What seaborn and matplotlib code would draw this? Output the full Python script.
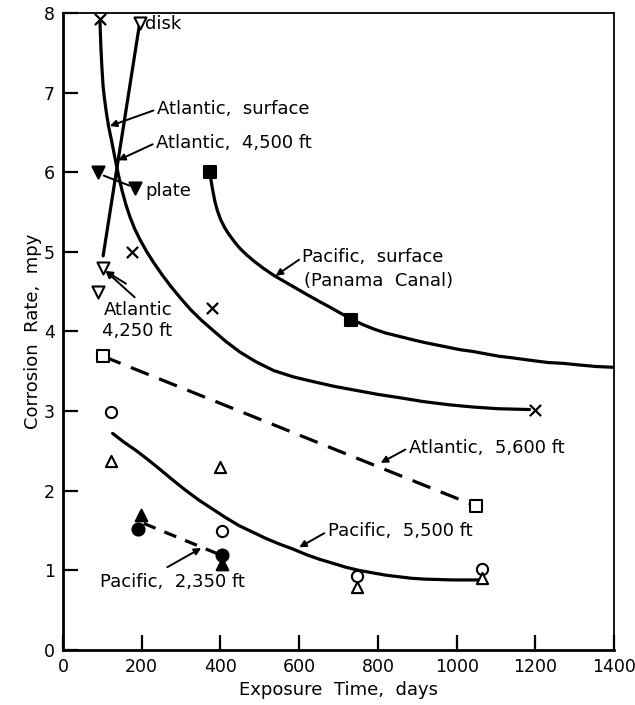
import matplotlib
matplotlib.use("Agg")
import matplotlib.pyplot as plt
import seaborn as sns
import pandas as pd

# ---- data ----
# Atlantic, surface (x markers + solid curve)
atl_surf_x = [94, 175, 378, 1200]
atl_surf_y = [7.92, 5.0, 4.3, 3.02]
atl_surf_curve_x = [94, 96, 99, 102, 106, 111, 116, 122, 128, 134, 141, 150, 160, 170, 182, 197,
                    213, 231, 252, 275, 300, 325, 352, 382, 415, 450, 490, 535, 585, 636, 690,
                    745, 800, 853, 915, 980, 1045, 1106, 1185]
atl_surf_curve_y = [7.88, 7.6, 7.3, 7.07, 6.9, 6.72, 6.57, 6.43, 6.28, 6.13, 5.96, 5.77, 5.59,
                    5.44, 5.29, 5.14, 5.0, 4.86, 4.71, 4.56, 4.41, 4.27, 4.14, 4.01, 3.87, 3.74,
                    3.62, 3.51, 3.43, 3.37, 3.31, 3.26, 3.21, 3.17, 3.12, 3.08, 3.05, 3.03, 3.02]

# Atlantic, 4,500 ft (disk: open down-triangle, plate: filled down-triangle)
atl4500_line_x = [195, 102]
atl4500_line_y = [7.88, 4.95]
disk_x = [195]
disk_y = [7.88]
plate_x = [89, 182]
plate_y = [6.0, 5.8]

# Atlantic, 4,250 ft (open down-triangles)
atl4250_x = [102, 89]
atl4250_y = [4.8, 4.5]

# Pacific, surface (Panama Canal)
pac_surf_x = [373, 731]
pac_surf_y = [6.0, 4.15]
pac_surf_curve_x = [373, 375, 378, 382, 386, 392, 400, 410, 420, 435, 450, 467, 486, 510, 537,
                    565, 593, 621, 650, 680, 705, 731, 760, 790, 820, 853, 885, 920, 950, 980,
                    1010, 1040, 1073, 1106, 1140, 1170, 1200, 1233, 1270, 1310, 1355, 1400]
pac_surf_curve_y = [6.0, 5.93, 5.84, 5.73, 5.63, 5.52, 5.41, 5.31, 5.23, 5.13, 5.04, 4.96, 4.88,
                    4.79, 4.70, 4.62, 4.54, 4.46, 4.38, 4.30, 4.23, 4.16, 4.09, 4.03, 3.98, 3.94,
                    3.90, 3.86, 3.83, 3.80, 3.77, 3.75, 3.72, 3.69, 3.67, 3.65, 3.63, 3.61,
                    3.60, 3.58, 3.56, 3.55]

# Atlantic, 5,600 ft (open squares, dashed)
atl5600_x = [101, 1048]
atl5600_y = [3.69, 1.81]

# Pacific, 5,500 ft (open circles / open triangles, solid curve)
pac5500_circ_x = [123, 405, 748, 1064]
pac5500_circ_y = [2.99, 1.50, 0.93, 1.02]
pac5500_tri_x = [122, 400, 748, 1064]
pac5500_tri_y = [2.37, 2.30, 0.79, 0.90]
pac5500_curve_x = [126, 155, 187, 216, 246, 280, 313, 346, 380, 414, 448, 482, 516, 550, 583,
                   617, 651, 685, 718, 752, 785, 820, 853, 887, 920, 955, 988, 1020, 1058]
pac5500_curve_y = [2.72, 2.61, 2.50, 2.39, 2.27, 2.13, 2.0, 1.88, 1.77, 1.66, 1.56, 1.48, 1.40,
                   1.33, 1.27, 1.20, 1.14, 1.09, 1.04, 1.00, 0.97, 0.94, 0.92, 0.90, 0.89,
                   0.885, 0.88, 0.88, 0.88]

# Pacific, 2,350 ft (filled circles / filled triangles, dashed)
pac2350_circ_x = [190, 405]
pac2350_circ_y = [1.52, 1.19]
pac2350_tri_x = [197, 405]
pac2350_tri_y = [1.69, 1.08]
pac2350_line_x = [205, 392]
pac2350_line_y = [1.59, 1.21]

x_ticks = [0, 200, 400, 600, 800, 1000, 1200, 1400]
y_ticks = [0, 1, 2, 3, 4, 5, 6, 7, 8]

# ---- figure ----
sns.set_theme(style="ticks")
plt.rcParams['font.family'] = ['DejaVu Sans']
K = "black"
plt.rcParams.update({"text.color": K, "axes.labelcolor": K,
                     "xtick.color": K, "ytick.color": K})
fig = plt.figure(figsize=(6.35, 7.05), dpi=100)
ax = fig.add_axes([0.0992, 0.078, 0.868, 0.9036])

LW = 2.3


def line(xs, ys, dashes=None):
    df = pd.DataFrame({"x": xs, "y": ys})
    sns.lineplot(data=df, x="x", y="y", ax=ax, color=K, lw=LW, sort=False,
                 estimator=None, legend=False)
    ln = ax.lines[-1]
    ln.set_solid_capstyle("round")
    ln.set_solid_joinstyle("round")
    if dashes is not None:
        ln.set_dashes(dashes)


def pts(xs, ys, marker, filled, size=55):
    df = pd.DataFrame({"x": xs, "y": ys})
    sns.scatterplot(data=df, x="x", y="y", ax=ax, marker=marker, s=size,
                    color=K if filled else "white", edgecolor=K,
                    linewidth=1.5, zorder=5, legend=False)


line(atl_surf_curve_x, atl_surf_curve_y)
line(atl4500_line_x, atl4500_line_y)
line(pac_surf_curve_x, pac_surf_curve_y)
line(atl5600_x, atl5600_y, dashes=(6, 3.5))
line(pac5500_curve_x, pac5500_curve_y)
line(pac2350_line_x, pac2350_line_y, dashes=(4, 3))

# markers
dfx = pd.DataFrame({"x": atl_surf_x, "y": atl_surf_y})
sns.scatterplot(data=dfx, x="x", y="y", ax=ax, marker="x", s=65, color=K,
                linewidth=1.6, zorder=5, legend=False)
pts(disk_x, disk_y, "v", False, 75)
pts(plate_x, plate_y, "v", True, 75)
pts(atl4250_x, atl4250_y, "v", False, 75)
pts(pac_surf_x, pac_surf_y, "s", True, 75)
pts(atl5600_x, atl5600_y, "s", False, 65)
pts(pac5500_circ_x, pac5500_circ_y, "o", False, 65)
pts(pac5500_tri_x, pac5500_tri_y, "^", False, 65)
pts(pac2350_circ_x, pac2350_circ_y, "o", True, 75)
pts(pac2350_tri_x, pac2350_tri_y, "^", True, 70)

# ---- annotations ----
FS = 13
ap = dict(arrowstyle="-|>", color=K, lw=1.4, mutation_scale=10, shrinkA=0, shrinkB=0)
ax.text(208, 7.86, "disk", fontsize=FS, va="center", ha="left")
ax.text(210, 5.77, "plate", fontsize=FS, va="center", ha="left")
ax.annotate("", xy=(97, 5.97), xytext=(175, 5.82),
            arrowprops=dict(arrowstyle="-", color=K, lw=1.4))
ax.annotate("Atlantic,  surface", xy=(119, 6.58), xytext=(238, 6.79),
            fontsize=FS, va="center", ha="left",
            arrowprops=dict(ap, relpos=(0, 0.5)))
ax.annotate("Atlantic,  4,500 ft", xy=(140, 6.15), xytext=(236, 6.37),
            fontsize=FS, va="center", ha="left",
            arrowprops=dict(ap, relpos=(0, 0.5)))
ax.text(104, 4.27, "Atlantic", fontsize=FS, va="center", ha="left")
ax.text(98, 4.0, "4,250 ft", fontsize=FS, va="center", ha="left")
ax.annotate("", xy=(108, 4.76), xytext=(182, 4.43), arrowprops=ap)
ax.annotate("", xy=(108, 4.76), xytext=(160, 4.6), arrowprops=ap)
ax.annotate("Pacific,  surface", xy=(540, 4.70), xytext=(608, 4.93),
            fontsize=FS, va="center", ha="left",
            arrowprops=dict(ap, relpos=(0, 0.5)))
ax.text(612, 4.64, "(Panama  Canal)", fontsize=FS, va="center", ha="left")
ax.annotate("Atlantic,  5,600 ft", xy=(807, 2.35), xytext=(878, 2.54),
            fontsize=FS, va="center", ha="left",
            arrowprops=dict(ap, relpos=(0, 0.5)))
ax.annotate("Pacific,  5,500 ft", xy=(600, 1.29), xytext=(672, 1.49),
            fontsize=FS, va="center", ha="left",
            arrowprops=dict(ap, relpos=(0, 0.5)))
ax.text(94, 0.85, "Pacific,  2,350 ft", fontsize=FS, va="center", ha="left")
ax.annotate("", xy=(351, 1.28), xytext=(265, 1.04), arrowprops=ap)

# ---- axes ----
ax.set_xlim(0, 1400)
ax.set_ylim(0, 8)
ax.set_xticks(x_ticks)
ax.set_yticks(y_ticks)
ax.set_xticklabels([str(v) for v in x_ticks], fontsize=12.5)
ax.set_yticklabels([str(v) for v in y_ticks], fontsize=12.5)
ax.tick_params(direction="in", length=11, width=1.6, colors=K, pad=6)
for s in ax.spines.values():
    s.set_visible(True)
    s.set_linewidth(2.0)
    s.set_color(K)
ax.spines["top"].set_linewidth(1.3)
ax.spines["right"].set_linewidth(1.3)
ax.set_xlabel("Exposure  Time,  days", fontsize=FS, labelpad=3)
ax.set_ylabel("Corrosion  Rate,  mpy", fontsize=FS, labelpad=1)
ax.set_facecolor("white")
fig.patch.set_facecolor("white")

fig.savefig("out.png", dpi=100)
